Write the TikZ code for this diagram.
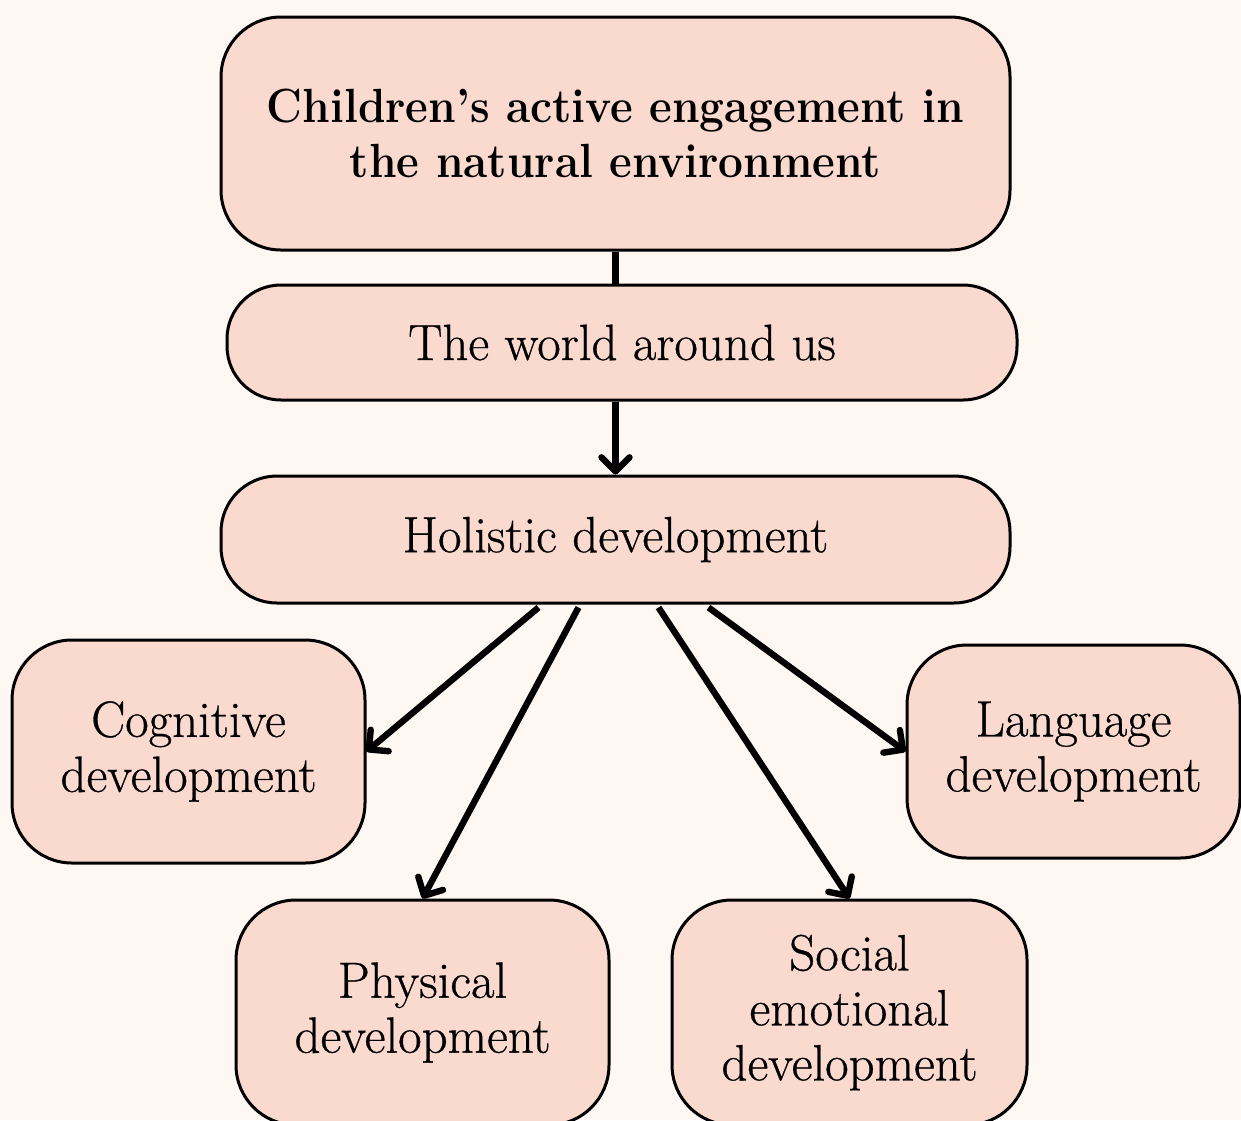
\documentclass[tikz,border=0pt]{standalone}
\usepackage{fontspec}
\usetikzlibrary{arrows.meta}
\newfontfamily\boxfont[Ligatures=TeX, FakeBold=0.6]{Latin Modern Roman}
\newfontfamily\headfont[Ligatures=TeX, FakeStretch=0.92]{Latin Modern Roman}
\definecolor{cream}{HTML}{FFF7F2}
\definecolor{blush}{HTML}{FAD9CE}
\tikzset{
  every picture/.style={line width=1.5pt},
  box/.style={draw=black, fill=blush, rounded corners=#1, align=center, inner sep=0pt,
    font=\boxfont\fontsize{25.5}{27.5}\selectfont},
  box/.default=30pt,
  arrow/.style={-{Straight Barb[length=7pt, width=14pt, round]}, line width=3.2pt},
  link/.style={line width=3.2pt},
}
\begin{document}
\begin{tikzpicture}[x=0.5pt, y=-0.5pt]
  \useasboundingbox (0,0) rectangle (1241,1120);
  \fill[cream] (0,0) rectangle (1241,1120);
  % main chain
  \node[box, minimum width=394.5pt, minimum height=116.5pt, font=\headfont\bfseries\fontsize{24}{27.5}\selectfont]
    (top) at (615.5,133.5) {Children’s active engagement in\\the natural environment};
  \node[box=27pt, minimum width=395pt, minimum height=57.5pt] (world) at (622,342.5) {The world around us};
  \node[box=28pt, minimum width=394.5pt, minimum height=63.5pt] (hol) at (615.5,539.5) {Holistic development};
  % the five areas
  \node[box, minimum width=176.5pt, minimum height=111.5pt] (cog) at (188.5,751.5) {Cognitive\\development};
  \node[box, minimum width=166.5pt, minimum height=106.5pt] (lang) at (1073.5,751.5) {Language\\development};
  \node[box, minimum width=186.5pt, minimum height=112.5pt] (phy) at (422.5,1012.5) {Physical\\development};
  \node[box, minimum width=177.5pt, minimum height=112.5pt] (soc) at (849.5,1012.5) {Social\\emotional\\development};
  % connectors
  \draw[link] (top.south) -- (top.south |- world.north);
  \draw[arrow] (world.south -| hol.north) -- (hol.north);
  \draw[arrow] ([xshift=-38.5pt, yshift=-1.5pt]hol.south) -- (cog.east);
  \draw[arrow] ([xshift=-18.5pt, yshift=-1.5pt]hol.south) -- (phy.north);
  \draw[arrow] ([xshift=21.5pt, yshift=-1.5pt]hol.south) -- (soc.north);
  \draw[arrow] ([xshift=46.5pt, yshift=-1.5pt]hol.south) -- (lang.west);
\end{tikzpicture}
\end{document}
